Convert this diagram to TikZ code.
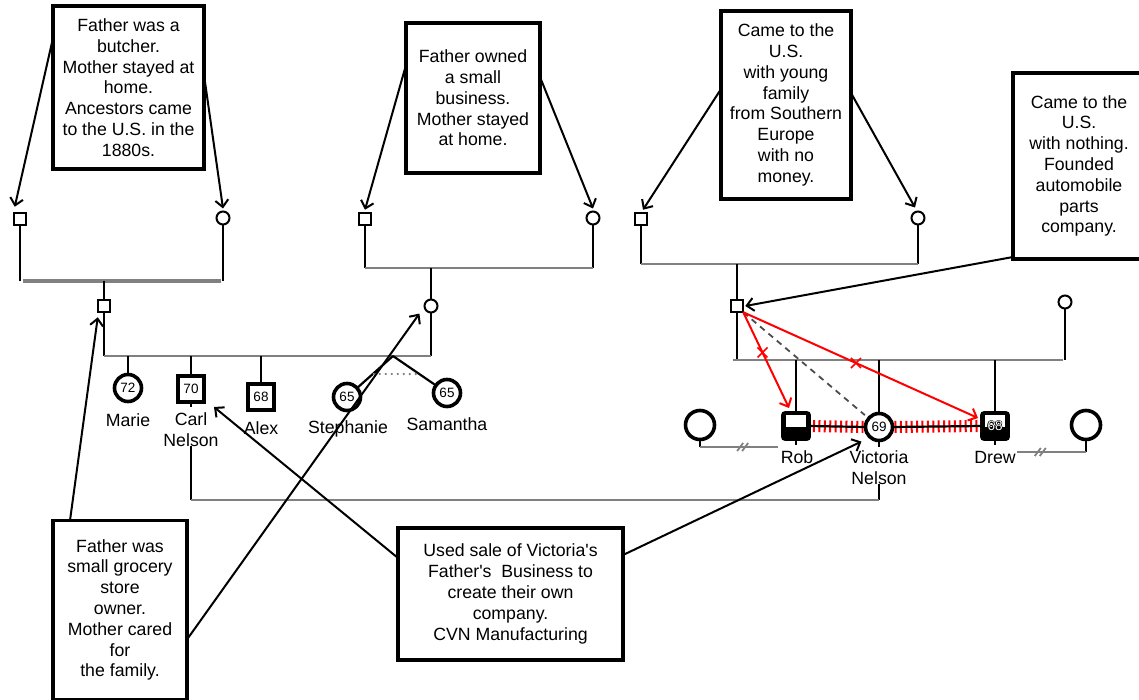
\documentclass[tikz,border=0pt]{standalone}
\usepackage{fontspec}
\setmainfont{Liberation Sans}
\usetikzlibrary{arrows.meta,shapes.misc,calc}
\begin{document}
\begin{tikzpicture}[x=1pt,y=-1pt,
  every node/.style={inner sep=0pt, outer sep=0pt},
  txt/.style={font=\fontsize{17.7}{20.8}\selectfont},
  num/.style={font=\fontsize{13.5}{15}\selectfont},
  note/.style={draw, line width=3.8pt, align=center, txt, fill=white},
  gpsq/.style={draw, rectangle, line width=2pt, minimum size=12.5pt},
  gpci/.style={draw, circle, line width=2pt, minimum size=13pt},
  kidci/.style={draw, circle, line width=3.6pt, minimum size=27pt, num},
  kidsq/.style={draw, rectangle, line width=3.6pt, minimum size=26pt, num},
  kidfill/.style={kidsq, fill=black, rounded corners=2pt},
  spci/.style={draw, circle, line width=3.6pt, minimum size=29pt},
  lbl/.style={txt, align=center, anchor=base},
  blk/.style={line width=2.2pt},
  gl/.style={draw=gray, line width=2.2pt},
  arr/.style={line width=2pt, -{Straight Barb[length=7pt,width=13pt]}},
  rarr/.style={draw=red, line width=2pt, -{Straight Barb[length=7pt,width=13pt]}},
  xmark/.style={cross out, draw=red, line width=1.6pt, minimum size=10pt},
]
\useasboundingbox (0,0) rectangle (1139,700);
\clip (0,0) rectangle (1139,700);

% ---------- notes ----------
\node[note, minimum width=151pt, minimum height=163pt] (nA) at (128.5,87.5)
  {Father was a\\butcher.\\Mother stayed at\\home.\\Ancestors came\\to the U.S. in the\\1880s.};
\node[note, minimum width=134pt, minimum height=150pt] (nB) at (473,98)
  {Father owned\\a small\\business.\\Mother stayed\\at home.};
\node[note, minimum width=130pt, minimum height=188pt] (nC) at (786,105)
  {Came to the\\U.S.\\with young\\family\\from Southern\\Europe\\with no\\money.};
\node[note, minimum width=132pt, minimum height=186pt] (nD) at (1079,166)
  {Came to the\\U.S.\\with nothing.\\Founded\\automobile\\parts\\company.};
\node[note, minimum width=134pt, minimum height=179pt] (nE) at (120,610)
  {Father was\\small grocery\\store\\owner.\\Mother cared\\for\\the family.};
\node[note, minimum width=225pt, minimum height=132pt] (nF) at (510.5,594)
  {Used sale of Victoria\textquotesingle s\\Father\textquotesingle s\ \ Business to\\create their own\\company.\\CVN Manufacturing};

% ---------- grandparents ----------
\node[gpsq] (gf1) at (20,219) {};
\node[gpci] (gm1) at (223,218) {};
\node[gpsq] (gf2) at (365,219) {};
\node[gpci] (gm2) at (593,218) {};
\node[gpsq] (gf3) at (641,219) {};
\node[gpci] (gm3) at (918,218) {};

% ---------- parents ----------
\node[gpsq] (f1) at (104,306) {};
\node[gpci] (m1) at (431,306) {};
\node[gpsq] (f3) at (737,306) {};
\node[gpci] (m3) at (1065,302) {};

% ---------- children ----------
\node[kidci] (marie) at (128,388) {72};
\node[kidsq] (carl) at (191,389) {70};
\node[kidsq] (alex) at (261,397) {68};
\node[kidci] (steph) at (347,397) {65};
\node[kidci] (sam) at (447,393) {65};

\node[kidfill] (rob) at (796,426) {};
\node[kidci] (vic) at (879,427) {69};
\node[kidfill] (drew) at (995,426) {};
\fill[white] ([xshift=3pt,yshift=-2pt]rob.north west) rectangle ([xshift=-3pt,yshift=-14pt]rob.north east);
\fill[white] ([xshift=3pt,yshift=-2pt]drew.north west) rectangle ([xshift=-3pt,yshift=-14pt]drew.north east);
\foreach \dx/\dy [count=\i] in {0.6/0,-0.6/0,0/0.6,0/-0.6,0.45/0.45,-0.45/0.45,0.45/-0.45,-0.45/-0.45}
  \node[num, text=black] (dto\i) at ([xshift=\dx pt, yshift=\dy pt]drew.center) {68};
\node[num, text=white] (dt) at (drew.center) {68};

\node[spci] (spL) at (700,425) {};
\node[spci] (spR) at (1086,425) {};

% ---------- labels ----------
\node[lbl] (marieL) at (128,426) {Marie};
\node[lbl] (carlL) at (191,446) {Carl\\Nelson};
\node[lbl] (alexL) at (261,434) {Alex};
\node[lbl] (stephL) at (348,433) {Stephanie};
\node[lbl] (samL) at (447,430) {Samantha};
\node[lbl] (robL) at (797,463) {Rob};
\node[lbl] (vicL) at (879,484) {Victoria\\Nelson};
\node[lbl] (drewL) at (995,463) {Drew};

% ---------- family lines ----------
\coordinate (c1l) at (20,281);  \coordinate (c1r) at (223,281); \coordinate (c1m) at (104,281);
\coordinate (c2l) at (365,268); \coordinate (c2r) at (593,268); \coordinate (c2m) at (431,268);
\coordinate (c3l) at (641,264); \coordinate (c3r) at (918,264); \coordinate (c3m) at (737,264);
\coordinate (s1l) at (104,356); \coordinate (s1r) at (431,356); \coordinate (tw) at (393,356);
\coordinate (s3l) at (737,360); \coordinate (s3r) at (1065,360);

\draw[blk] (gf1) -- (c1l) (gm1) -- (c1r);
\draw[draw=gray, line width=3.2pt] ([xshift=3pt]c1l) -- ([xshift=-2pt]c1r);
\draw[blk] (c1m) -- (f1);

\draw[blk] (gf2) -- (c2l) (gm2) -- (c2r);
\draw[gl] (c2l) -- (c2r);
\draw[blk] (c2m) -- (m1);

\draw[blk] (gf3) -- (c3l) (gm3) -- (c3r);
\draw[gl] (c3l) -- (c3r);
\draw[blk] (c3m) -- (f3);

\draw[blk] (f1) -- (s1l) (m1) -- (s1r);
\draw[gl] (s1l) -- (s1r);
\draw[blk] (marie |- s1l) -- (marie);
\draw[blk] (carl |- s1l) -- (carl);
\draw[blk] (alex |- s1l) -- (alex);
\draw[blk] (tw) -- (steph);
\draw[blk] (tw) -- (sam);
\draw[draw=gray, line width=1.8pt, dash pattern=on 1.8pt off 4.2pt] ($(tw)!0.44!(steph)$) -- ($(tw)!0.49!(sam)$);
\draw[blk] (carl.south) -- ++(0,5);

\draw[blk] (f3) -- (s3l) (m3) -- (s3r);
\draw[gl] ([xshift=-4pt]s3l) -- ([xshift=-2pt]s3r);
\draw[blk] (rob |- s3l) -- (rob);
\draw[blk] (vic |- s3l) -- (vic);
\draw[blk] (drew |- s3l) -- (drew);
\draw[blk] (rob.south) -- ++(0,6);
\draw[blk] (vic.south) -- ++(0,6);
\draw[blk] (drew.south) -- ++(0,6);

% spouses (divorced)
\coordinate (spLc) at (700,447); \coordinate (robc) at (778,447);
\coordinate (spRc) at (1086,452); \coordinate (drewc) at (1017,452);
\draw[blk] (spL) -- (spLc);
\draw[gl] (spLc) -- (robc);
\coordinate (mkL) at ($(spLc)!0.54!(robc)$);
\draw[draw=gray, line width=1.8pt] ([xshift=-5pt,yshift=-4pt]mkL) -- ([xshift=1pt,yshift=4pt]mkL)
  ([xshift=0pt,yshift=-4pt]mkL) -- ([xshift=6pt,yshift=4pt]mkL);
\draw[blk] (spR) -- (spRc);
\draw[gl] (spRc) -- (drewc);
\coordinate (mkR) at ($(drewc)!0.33!(spRc)$);
\draw[draw=gray, line width=1.8pt] ([xshift=-5pt,yshift=-4pt]mkR) -- ([xshift=1pt,yshift=4pt]mkR)
  ([xshift=0pt,yshift=-4pt]mkR) -- ([xshift=6pt,yshift=4pt]mkR);

% Carl -- Victoria marriage
\draw[blk] (carlL.south) -- (carlL.south |- 0,500);
\draw[blk] (vicL.south) -- (vicL.south |- 0,500);
\draw[gl] (carlL.south |- 0,500) -- (vicL.south |- 0,500);

% hostile / conflict lines
\draw[draw=red, line width=12pt, dash pattern=on 2pt off 3.4pt, shorten <=4pt, shorten >=2pt] (rob.east) -- (vic.west);
\draw[draw=red, line width=12pt, dash pattern=on 2pt off 3.4pt, shorten <=2pt, shorten >=1pt] (vic.east) -- (drew.west);
\draw[line width=2.2pt] (rob.east) -- (vic.west);
\draw[line width=2.2pt] (vic.east) -- (drew.west);

\draw[draw=black!70, line width=1.8pt, dash pattern=on 6pt off 5pt, shorten >=5pt] (f3.south east) -- (vic.140);

\draw[rarr] (f3.south east) -- node[xmark, pos=0.42] (x1) {} ([xshift=6pt,yshift=5pt]rob.north west);
\draw[rarr] (f3.south east) -- node[xmark, pos=0.48] (x2) {} ([xshift=-4pt,yshift=-5pt]drew.north west);

% ---------- note arrows ----------
\draw[arr] ([yshift=-32pt]nA.north west) -- ([xshift=1pt,yshift=6pt]gf1.north west);
\draw[arr] ([yshift=-69pt]nA.north east) -- ([yshift=3pt]gm1.north);
\draw[arr] ([yshift=-42pt]nB.north west) -- ([yshift=3pt]gf2.north);
\draw[arr] ([yshift=-54pt]nB.north east) -- ([yshift=3pt]gm2.north);
\draw[arr] ([yshift=-78pt]nC.north west) -- ([xshift=2pt,yshift=3pt]gf3.north);
\draw[arr] ([yshift=-82pt]nC.north east) -- ([xshift=-3pt,yshift=4pt]gm3.north);
\draw[arr] ([yshift=2pt]nD.south west) -- ([xshift=2pt]f3.east);
\draw[arr] ([xshift=17pt]nE.north west) -- ([yshift=-5pt]f1.south west);
\draw[arr] ([yshift=60pt]nE.south east) -- ([xshift=-7pt,yshift=-3pt]m1.south west);
\draw[arr] ([yshift=-30pt]nF.north west) -- ([xshift=10pt,yshift=-5pt]carl.south east);
\draw[arr] ([yshift=-27pt]nF.north east) -- ([xshift=-8pt,yshift=-5pt]vic.south west);
\end{tikzpicture}
\end{document}
